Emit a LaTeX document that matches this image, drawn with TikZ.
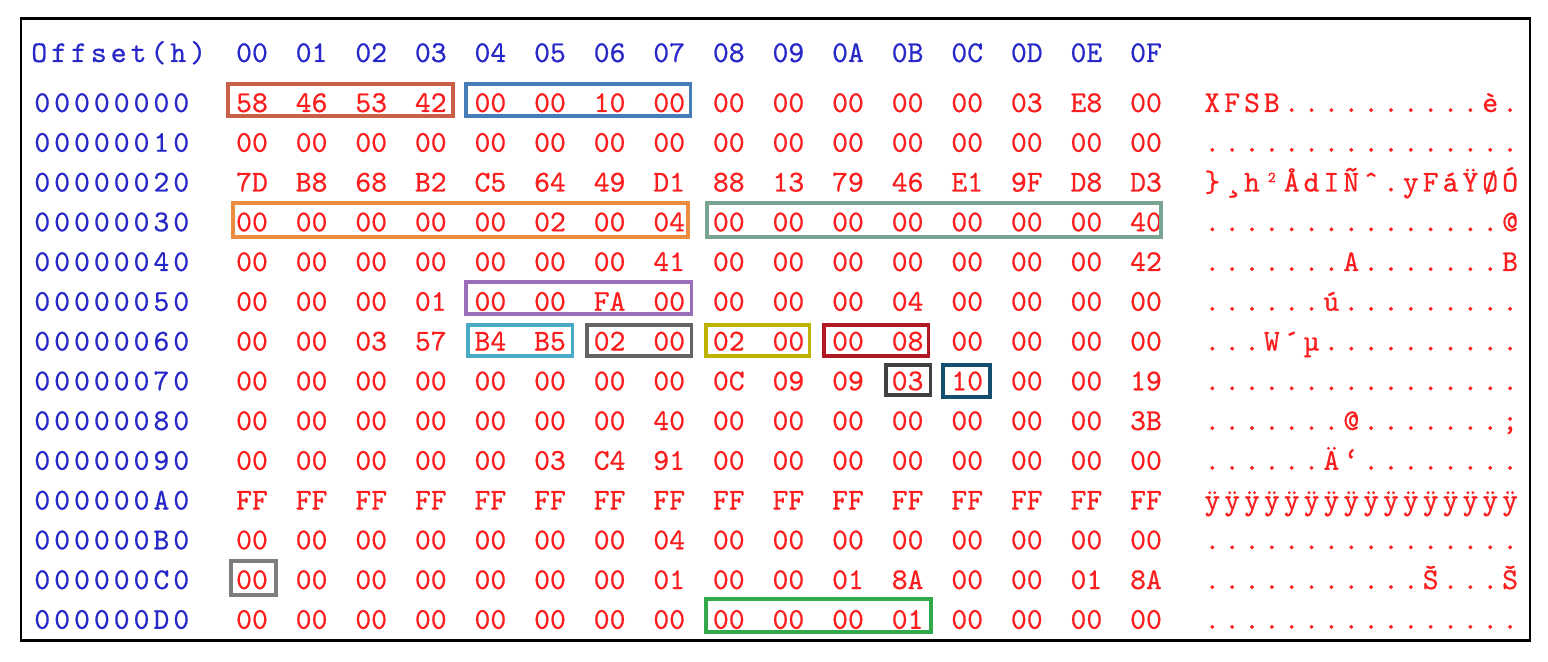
\documentclass[tikz,border=0pt]{standalone}
\usepackage{fontspec}
\newfontfamily\hexfont[LetterSpace=13.2,FakeBold=0.6]{lmmono10-regular.otf}
\newfontfamily\bytefont[FakeBold=0.6]{lmmono10-regular.otf}
\usepackage{xcolor}
\usepackage{tikz}
\usetikzlibrary{positioning}

\definecolor{offblue}{RGB}{40,40,200}
\definecolor{bytered}{RGB}{250,30,30}
\definecolor{magicbox}{RGB}{200,95,70}
\definecolor{blocksizebox}{RGB}{70,125,185}
\definecolor{rootinobox}{RGB}{235,140,65}
\definecolor{rtinobox}{RGB}{120,165,145}
\definecolor{agblocksbox}{RGB}{155,110,185}
\definecolor{versionbox}{RGB}{75,170,200}
\definecolor{sectsizebox}{RGB}{100,100,100}
\definecolor{inosizebox}{RGB}{190,180,0}
\definecolor{inopblockbox}{RGB}{175,25,35}
\definecolor{blocklogbox}{RGB}{65,65,65}
\definecolor{inologbox}{RGB}{20,80,110}
\definecolor{flagsbox}{RGB}{125,125,125}
\definecolor{featbox}{RGB}{50,170,75}

\tikzset{
    hexlabel/.style={anchor=base west, inner sep=0pt, text=offblue,
        font=\hexfont\fontsize{17.2pt}{20pt}\selectfont},
    hexbyte/.style={anchor=base, inner sep=0pt, text=bytered,
        font=\bytefont\fontsize{17.2pt}{20pt}\selectfont},
    hexcolhead/.style={hexbyte, text=offblue},
    hexascii/.style={hexlabel, text=bytered},
    fieldbox/.style={line width=2pt}
}

\begin{document}
\begin{tikzpicture}[x=0.02cm,y=-0.02cm]
                \useasboundingbox (0,0) rectangle (1548,662);

                \draw[
                    line width=1.2pt
                    ] (21,18.5) rectangle (1530,640.5);

                % header line
                \node[hexlabel] (offhead) at (31,62) {Offset(h)};
                \foreach \h [count=\col from 0] in {00,01,02,03,04,05,06,07,08,09,0A,0B,0C,0D,0E,0F}
                    \node[hexcolhead] (head\col) at ({252+59.6*\col},62) {\h};

                % dump lines
                \foreach \row/\off/\bytes/\asc in {
                    0/00000000/{58,46,53,42,00,00,10,00,00,00,00,00,00,03,E8,00}/{XFSB..........è.},
                    1/00000010/{00,00,00,00,00,00,00,00,00,00,00,00,00,00,00,00}/{................},
                    2/00000020/{7D,B8,68,B2,C5,64,49,D1,88,13,79,46,E1,9F,D8,D3}/{\}¸h²ÅdIÑˆ.yFáŸØÓ},
                    3/00000030/{00,00,00,00,00,02,00,04,00,00,00,00,00,00,00,40}/{...............@},
                    4/00000040/{00,00,00,00,00,00,00,41,00,00,00,00,00,00,00,42}/{.......A.......B},
                    5/00000050/{00,00,00,01,00,00,FA,00,00,00,00,04,00,00,00,00}/{......ú.........},
                    6/00000060/{00,00,03,57,B4,B5,02,00,02,00,00,08,00,00,00,00}/{...W´µ..........},
                    7/00000070/{00,00,00,00,00,00,00,00,0C,09,09,03,10,00,00,19}/{................},
                    8/00000080/{00,00,00,00,00,00,00,40,00,00,00,00,00,00,00,3B}/{.......@.......;},
                    9/00000090/{00,00,00,00,00,03,C4,91,00,00,00,00,00,00,00,00}/{......Ä‘........},
                    10/000000A0/{FF,FF,FF,FF,FF,FF,FF,FF,FF,FF,FF,FF,FF,FF,FF,FF}/{ÿÿÿÿÿÿÿÿÿÿÿÿÿÿÿÿ},
                    11/000000B0/{00,00,00,00,00,00,00,04,00,00,00,00,00,00,00,00}/{................},
                    12/000000C0/{00,00,00,00,00,00,00,01,00,00,01,8A,00,00,01,8A}/{...........Š...Š},
                    13/000000D0/{00,00,00,00,00,00,00,00,00,00,00,01,00,00,00,00}/{................}}
                {
                    \node[hexlabel] (off\row) at (34,{112+39.75*\row}) {\off};
                    \foreach \b [count=\col from 0] in \bytes
                        \node[hexbyte] (byte\row-\col) at ({252+59.6*\col},{112+39.75*\row}) {\b};
                    \node[hexascii] (asc\row) at (1204,{112+39.75*\row}) {\asc};
                }

                % superblock fields
                \draw[
                    fieldbox,
                    color=magicbox
                    ] (227.75,83.75) rectangle (453.25,116.25);

                \draw[
                    fieldbox,
                    color=blocksizebox
                    ] (465.75,83.75) rectangle (690.25,116.25);

                \draw[
                    fieldbox,
                    color=rootinobox
                    ] (233,203) rectangle (688,237);

                \draw[
                    fieldbox,
                    color=rtinobox
                    ] (707,203) rectangle (1161,237);

                \draw[
                    fieldbox,
                    color=agblocksbox
                    ] (465.75,281.75) rectangle (691.25,314.25);

                \draw[
                    fieldbox,
                    color=versionbox
                    ] (467.75,324.75) rectangle (572.25,356.25);

                \draw[
                    fieldbox,
                    color=sectsizebox
                    ] (586.75,324.75) rectangle (691.25,356.25);

                \draw[
                    fieldbox,
                    color=inosizebox
                    ] (705.75,324.75) rectangle (809.25,356.25);

                \draw[
                    fieldbox,
                    color=inopblockbox
                    ] (823.75,324.75) rectangle (928.25,356.25);

                \draw[
                    fieldbox,
                    color=blocklogbox
                    ] (885.75,364.75) rectangle (930.25,395.25);

                \draw[
                    fieldbox,
                    color=inologbox
                    ] (942.75,364.75) rectangle (990,397);

                \draw[
                    fieldbox,
                    color=flagsbox
                    ] (231,561) rectangle (276,595);

                \draw[
                    fieldbox,
                    color=featbox
                    ] (706,599) rectangle (931,632);

\end{tikzpicture}
\end{document}
